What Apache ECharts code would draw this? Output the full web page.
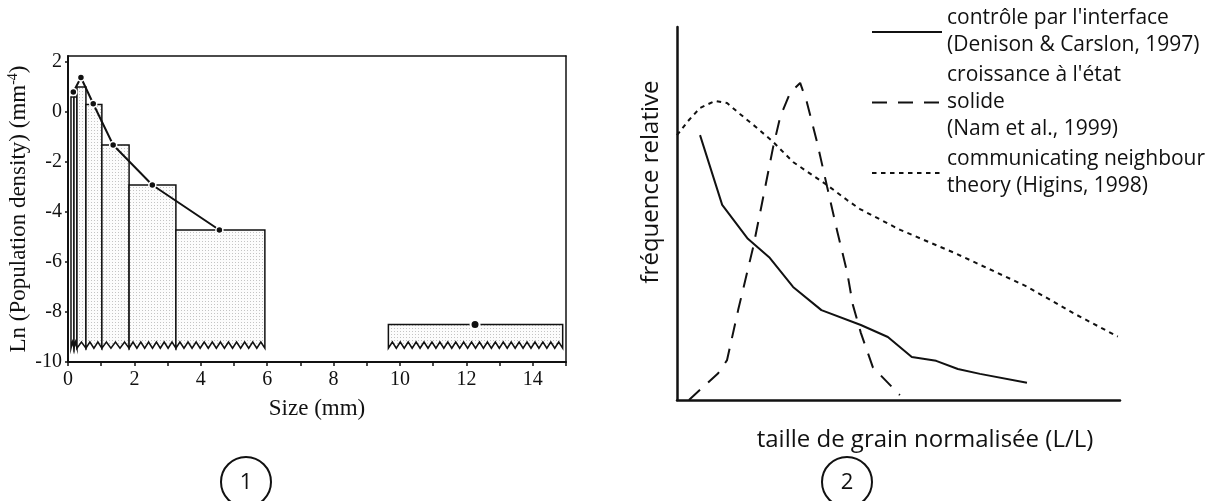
<!DOCTYPE html>
<html style='height: 100%'>
<head>
    <meta charset='utf-8'>
</head>
<body style='height: 100%; margin: 0; background: #fff'>
    <div id='container' style='width: 1213px; height: 501px'></div>
    <script type='text/javascript' src='https://cdn.jsdelivr.net/npm/echarts@6/dist/echarts.min.js'></script>
    <script type="text/javascript">
// ---- panel 1 : population density histogram ----
var binFrom = [0.09, 0.18, 0.27, 0.54, 1.02, 1.84, 3.25, 9.65];
var binTo   = [0.18, 0.27, 0.54, 1.02, 1.84, 3.25, 5.93, 14.9];
var binTop  = [0.6, 0.6, 1.0, 0.3, -1.32, -2.92, -4.72, -8.5];
var breakHi = -9.2, breakLo = -9.45;   // broken bar bottoms (zigzag)
var curveX = [0.16, 0.39, 0.76, 1.36, 2.54, 4.56];
var curveY = [0.8, 1.38, 0.33, -1.32, -2.92, -4.72];
var lonePt = [[12.26, -8.5]];
var sizeLabels = [0, 2, 4, 6, 8, 10, 12, 14];
var sizeTicks = [0, 1, 2, 3, 4, 5, 6, 7, 8, 9, 10, 11, 12, 13, 14, 15];
var lnLabels = [-10, -8, -6, -4, -2, 0, 2];

// ---- panel 2 : relative frequency curves ----
var interfaceX = [5.2, 10.2, 16.0, 20.8, 26.2, 32.6, 41.5, 47.6, 53.0, 58.5, 63.4, 68.4, 79.0];
var interfaceY = [71.0, 52.3, 43.2, 38.3, 30.3, 24.1, 20.1, 16.9, 11.5, 10.5, 8.3, 7.0, 4.6];
var solidX = [2.7, 9.3, 11.3, 13.8, 17.2, 19.2, 21.7, 23.3, 25.5, 27.8, 29.3, 31.6, 33.9, 36.1, 38.4, 39.7, 41.5, 44.2, 50.3];
var solidY = [0, 7.2, 10.7, 24.1, 41.0, 52.8, 67.8, 75.9, 82.3, 85.0, 79.9, 69.2, 57.1, 45.6, 34.3, 25.5, 18.0, 8.8, 1.3];
var neighbourX = [0, 2.5, 5.2, 8.6, 11.3, 14.2, 18.1, 21.7, 26.2, 33.9, 38.4, 41.3, 50.4, 62.9, 79.0, 89.6, 99.5];
var neighbourY = [71.0, 74.8, 78.3, 80.2, 79.6, 76.7, 72.9, 69.2, 63.8, 57.6, 53.6, 51.2, 45.6, 39.3, 30.4, 23.2, 17.0];
var legendText = {
    'interface': "contrôle par l'interface\n(Denison & Carslon, 1997)",
    'solid': "croissance à l'état\nsolide\n(Nam et al., 1999)",
    'neighbour': "communicating neighbour\ntheory (Higins, 1998)"
};

function pairs(xs, ys) {
    var out = [];
    for (var i = 0; i < xs.length; i++) out.push([xs[i], ys[i]]);
    return out;
}

// light dotted fill of the bars
var dots = document.createElement('canvas');
dots.width = 3; dots.height = 3;
var g = dots.getContext('2d');
g.fillStyle = '#fcfcfc'; g.fillRect(0, 0, 3, 3);
g.fillStyle = '#c4c4c4'; g.fillRect(1, 1, 1, 1);
var stipple = {image: dots, repeat: 'repeat'};

function renderBin(params, api) {
    var x0 = api.value(0), x1 = api.value(1), top = api.value(2);
    var tl = api.coord([x0, top]);
    var tr = api.coord([x1, top]);
    var yHi = api.coord([x0, breakHi])[1];
    var yLo = api.coord([x0, breakLo])[1];
    var pts = [tl, tr, [tr[0], yLo]];
    var n = Math.max(1, Math.round((tr[0] - tl[0]) / 8));
    var w = (tr[0] - tl[0]) / n;
    for (var i = n; i > 0; i--) {
        pts.push([tl[0] + (i - 0.5) * w, yHi]);
        pts.push([tl[0] + (i - 1) * w, yLo]);
    }
    return {
        type: 'polygon',
        shape: {points: pts},
        style: {fill: stipple, stroke: '#111', lineWidth: 1.5}
    };
}

var bins = [];
for (var i = 0; i < binFrom.length; i++) bins.push([binFrom[i], binTo[i], binTop[i]]);

var serif = 'Liberation Serif';
var sans = 'Open Sans';

var dom = document.getElementById("container");
var myChart = echarts.init(dom);
var option = {
    animation: false,
    backgroundColor: '#fff',
    grid: [
        {left: 68, top: 56, width: 498, height: 306},
        {left: 677, top: 27, width: 443, height: 373}
    ],
    legend: {
        data: ['interface', 'solid', 'neighbour'],
        orient: 'vertical',
        left: 866,
        top: 0,
        itemWidth: 70,
        itemHeight: 10,
        itemGap: 3,
        selectedMode: false,
        itemStyle: {opacity: 0},
        formatter: function (n) { return legendText[n]; },
        textStyle: {fontFamily: sans, fontSize: 21, lineHeight: 27, color: '#111'}
    },
    xAxis: [
        {
            type: 'value', gridIndex: 0, min: 0, max: 15,
            name: 'Size (mm)', nameLocation: 'middle', nameGap: 35,
            nameTextStyle: {fontFamily: serif, fontSize: 23, color: '#111'},
            axisLine: {onZero: false, lineStyle: {color: '#111', width: 2}},
            axisTick: {customValues: sizeTicks, length: 4, lineStyle: {color: '#111', width: 1.5}},
            axisLabel: {customValues: sizeLabels, margin: 8, fontFamily: serif, fontSize: 20, color: '#111'},
            splitLine: {show: false}
        },
        {
            type: 'value', gridIndex: 0, min: 0, max: 15, position: 'top',
            axisLine: {show: true, onZero: false, lineStyle: {color: '#111', width: 1.5}},
            axisTick: {show: false}, axisLabel: {show: false}, splitLine: {show: false}
        },
        {
            type: 'value', gridIndex: 1, min: 0, max: 100,
            name: 'taille de grain normalisée (L/L)', nameLocation: 'middle', nameGap: 28,
            nameTextStyle: {fontFamily: sans, fontSize: 24, color: '#111', padding: [0, 0, 0, 53]},
            axisLine: {onZero: false, lineStyle: {color: '#111', width: 2.5}},
            axisTick: {show: false}, axisLabel: {show: false}, splitLine: {show: false}
        }
    ],
    yAxis: [
        {
            type: 'value', gridIndex: 0, min: -10, max: 2.24,
            name: '{a|Ln (Population density) (mm}{b|-4}{a|)}',
            nameLocation: 'middle', nameGap: 36,
            nameTextStyle: {
                rich: {
                    a: {fontFamily: serif, fontSize: 23, color: '#111', lineHeight: 26},
                    b: {fontFamily: serif, fontSize: 14, color: '#111', lineHeight: 14, verticalAlign: 'top'}
                }
            },
            axisLine: {show: true, onZero: false, lineStyle: {color: '#111', width: 2}},
            axisTick: {customValues: lnLabels, length: 3, lineStyle: {color: '#111', width: 1.5}},
            axisLabel: {customValues: lnLabels, margin: 6, fontFamily: serif, fontSize: 20, color: '#111'},
            splitLine: {show: false}
        },
        {
            type: 'value', gridIndex: 0, min: -10, max: 2.24, position: 'right',
            axisLine: {show: true, onZero: false, lineStyle: {color: '#111', width: 1.5}},
            axisTick: {show: false}, axisLabel: {show: false}, splitLine: {show: false}
        },
        {
            type: 'value', gridIndex: 1, min: 0, max: 100,
            name: 'fréquence relative', nameLocation: 'middle', nameGap: 14,
            nameTextStyle: {fontFamily: sans, fontSize: 24, color: '#111', padding: [0, 0, 0, 63]},
            axisLine: {show: true, onZero: false, lineStyle: {color: '#111', width: 2.5}},
            axisTick: {show: false}, axisLabel: {show: false}, splitLine: {show: false}
        }
    ],
    series: [
        {
            type: 'custom', xAxisIndex: 0, yAxisIndex: 0,
            renderItem: renderBin,
            encode: {x: [0, 1], y: 2},
            data: bins,
            silent: true
        },
        {
            type: 'line', xAxisIndex: 0, yAxisIndex: 0,
            data: pairs(curveX, curveY),
            symbol: 'circle', symbolSize: 7, showSymbol: true,
            lineStyle: {color: '#111', width: 2},
            itemStyle: {color: '#111', borderColor: '#fff', borderWidth: 1.5},
            silent: true
        },
        {
            type: 'scatter', xAxisIndex: 0, yAxisIndex: 0,
            data: lonePt, symbolSize: 9,
            itemStyle: {color: '#111', borderColor: '#fff', borderWidth: 2, opacity: 1},
            silent: true
        },
        {
            name: 'interface', type: 'line', xAxisIndex: 2, yAxisIndex: 2,
            data: pairs(interfaceX, interfaceY), symbol: 'none',
            itemStyle: {color: '#111'},
            lineStyle: {color: '#111', width: 2, type: 'solid'}, silent: true
        },
        {
            name: 'solid', type: 'line', xAxisIndex: 2, yAxisIndex: 2,
            data: pairs(solidX, solidY), symbol: 'none',
            itemStyle: {color: '#111'},
            lineStyle: {color: '#111', width: 2, type: [15, 11]}, silent: true
        },
        {
            name: 'neighbour', type: 'line', xAxisIndex: 2, yAxisIndex: 2,
            data: pairs(neighbourX, neighbourY), symbol: 'none',
            itemStyle: {color: '#111'},
            lineStyle: {color: '#111', width: 2, type: [4.5, 4.5]}, silent: true
        }
    ],
    graphic: [
        {type: 'circle', shape: {cx: 246, cy: 482, r: 25}, style: {fill: 'none', stroke: '#111', lineWidth: 2}},
        {type: 'text', x: 246, y: 483, style: {text: '1', fontFamily: sans, fontSize: 22, fill: '#111', align: 'center', verticalAlign: 'middle'}},
        {type: 'circle', shape: {cx: 847, cy: 482, r: 25}, style: {fill: 'none', stroke: '#111', lineWidth: 2}},
        {type: 'text', x: 847, y: 483, style: {text: '2', fontFamily: sans, fontSize: 22, fill: '#111', align: 'center', verticalAlign: 'middle'}}
    ]
};
myChart.setOption(option, true);
    </script>
</body>
</html>
